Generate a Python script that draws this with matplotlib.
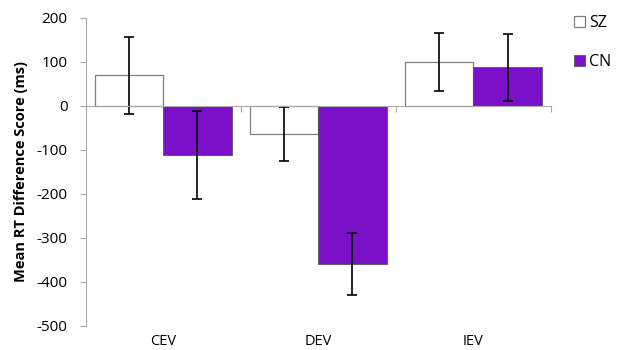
import matplotlib.pyplot as plt
import numpy as np

plt.rcParams['font.family'] = ['Open Sans', 'DejaVu Sans']
plt.rcParams['axes.unicode_minus'] = False

conditions = ['CEV', 'DEV', 'IEV']
groups = ['SZ', 'CN']
sz_mean = [69, -64, 100]
sz_err = [88, 62, 66]
cn_mean = [-112, -359, 88]
cn_err = [100, 71, 76]

fig = plt.figure(figsize=(6.17, 3.5), dpi=100)
ax = fig.add_axes([0.139, 0.069, 0.754, 0.88])

x = np.arange(len(conditions))
width = 0.44
ax.bar(x - width/2, sz_mean, width, yerr=sz_err, color='white',
       edgecolor='#7f7f7f', linewidth=0.9, capsize=3.5,
       error_kw={'elinewidth': 1.2, 'capthick': 1.2}, label=groups[0])
ax.bar(x + width/2, cn_mean, width, yerr=cn_err, color='#7a10c8',
       edgecolor='#555555', linewidth=0.6, capsize=3.5,
       error_kw={'elinewidth': 1.2, 'capthick': 1.2}, label=groups[1])

ax.set_xlim(-0.5, len(conditions) - 0.5)
ax.set_ylim(-500, 200)
ax.set_yticks(np.arange(-500, 201, 100))
ax.tick_params(axis='y', colors='#aaaaaa', labelcolor='black', labelsize=11,
               length=4, width=0.8, pad=9)

# category axis drawn at zero
ax.spines['top'].set_visible(False)
ax.spines['right'].set_visible(False)
ax.spines['left'].set_color('#aaaaaa')
ax.spines['bottom'].set_position(('data', 0))
ax.spines['bottom'].set_color('#aaaaaa')
ax.set_xticks(np.arange(len(conditions) + 1) - 0.5)
ax.set_xticklabels([])
ax.tick_params(axis='x', colors='#aaaaaa', length=4, width=0.8)
for xi, name in zip(x, conditions):
    ax.text(xi, -0.05, name, transform=ax.get_xaxis_transform(),
            ha='center', va='center', fontsize=10.5)

ax.set_ylabel('Mean RT Difference Score (ms)', fontsize=10.5,
              fontweight='bold', labelpad=6)

fig.legend(loc='upper left', bbox_to_anchor=(0.92, 0.975), frameon=False,
           fontsize=11.5, handlelength=0.7, handleheight=0.7,
           handletextpad=0.25, labelspacing=1.45, borderaxespad=0)

fig.savefig('out.png', dpi=100)
